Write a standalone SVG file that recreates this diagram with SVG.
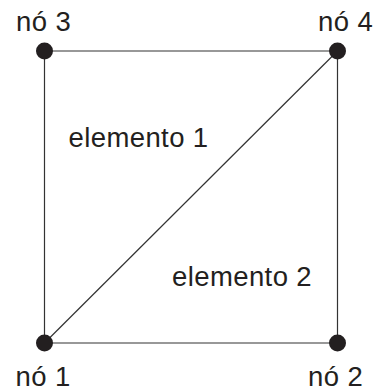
<svg xmlns="http://www.w3.org/2000/svg" width="383" height="389" viewBox="0 0 383 389">
<style>
.edge{stroke:#333;stroke-width:1.2;fill:none}
.node{fill:#231f20}
.lbl{font-family:"Liberation Sans",Arial,sans-serif;font-size:27.5px;letter-spacing:0.4px;fill:#231f20}
</style>
<rect width="383" height="389" fill="#fff"/>
<g id="connectors">
<line class="edge" x1="44.5" y1="51" x2="337.5" y2="51"/>
<line class="edge" x1="44.5" y1="343" x2="337.5" y2="343"/>
<line class="edge" x1="44.5" y1="51" x2="44.5" y2="343"/>
<line class="edge" x1="337.5" y1="51" x2="337.5" y2="343"/>
<line class="edge" x1="44.5" y1="343" x2="337.5" y2="51"/>
</g>
<g id="n1"><circle class="node" cx="44.5" cy="343" r="8.5"/><text class="lbl" x="15.5" y="386">nó 1</text></g>
<g id="n2"><circle class="node" cx="337.5" cy="343" r="8.5"/><text class="lbl" x="308" y="386">nó 2</text></g>
<g id="n3"><circle class="node" cx="44.5" cy="51" r="8.5"/><text class="lbl" x="16" y="31">nó 3</text></g>
<g id="n4"><circle class="node" cx="337.5" cy="51" r="8.5"/><text class="lbl" x="318" y="31">nó 4</text></g>
<g id="e1"><text class="lbl" x="68.5" y="147">elemento 1</text></g>
<g id="e2"><text class="lbl" x="172" y="286">elemento 2</text></g>
</svg>
